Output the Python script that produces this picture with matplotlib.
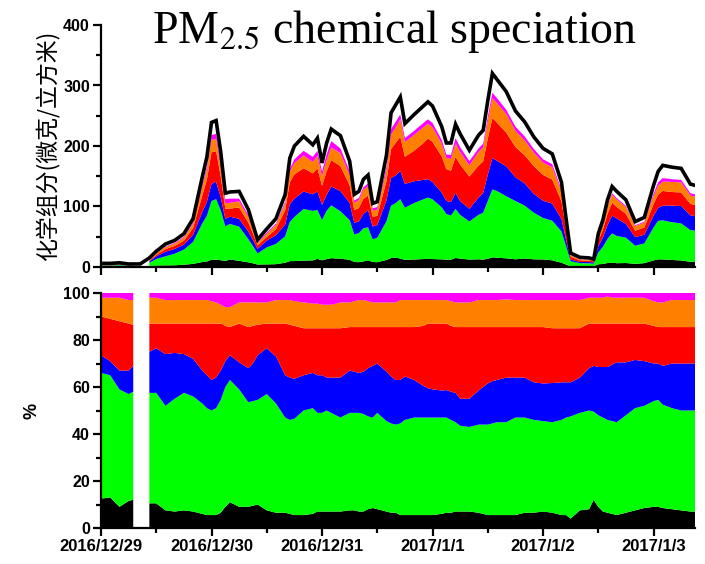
import numpy as np
import matplotlib
matplotlib.use("Agg")
import matplotlib.pyplot as plt
from matplotlib.ticker import MultipleLocator

plt.rcParams['font.family'] = ['Liberation Sans', 'DejaVu Sans']

# Sampling times, hours after 2016/12/29 00:00
hours = [0, 2, 4, 6, 7, 8.5, 10.5, 12, 14, 16, 18, 20, 22, 23, 24, 25, 26, 27, 28,
         30, 32, 33, 34, 36, 38, 40, 41, 42, 44, 46, 47, 48, 49, 50, 52, 54, 55,
         56, 57, 58, 59, 60, 62, 63, 64, 65, 66, 68, 70, 71, 72, 74, 75, 76, 77,
         78, 80, 82, 83, 84, 85, 86, 88, 90, 92, 94, 96, 98, 100, 101, 102, 104,
         106, 107, 108, 109, 110, 111, 112, 114, 116, 118, 120, 121, 122, 124,
         126, 128, 129]

# Measured PM2.5 mass (ug/m3)
pm25_total = [6, 6, 7, 5, 5, 5, 15, 26, 38, 44, 55, 80, 149, 182, 239, 242, 190, 122, 124,
              125, 95, 70, 45, 63, 80, 120, 180, 200, 216, 202, 213, 172, 205, 228, 217, 175, 120,
              125, 145, 152, 105, 108, 185, 255, 268, 281, 237, 252, 266, 273, 266, 232, 205, 205, 236,
              220, 193, 218, 226, 275, 320, 310, 290, 258, 240, 215, 196, 187, 140, 80, 23, 16,
              15, 13, 55, 78, 111, 133, 125, 111, 75, 82, 135, 158, 168, 165,
              163, 137, 135]

# Sum of the identified chemical components (ug/m3)
species_sum = [4, 4, 5, 4, 4, np.nan, 12, 23, 34, 40, 50, 74, 136, 166, 218, 220, 172, 112, 113,
               113, 86, 64, 41, 57, 72, 108, 162, 178, 192, 182, 192, 158, 186, 208, 196, 158, 110,
               114, 132, 138, 97, 99, 166, 228, 240, 252, 213, 225, 238, 244, 238, 210, 186, 185, 213,
               198, 175, 196, 204, 248, 288, 279, 260, 232, 216, 195, 178, 170, 128, 73, 20, 13,
               12, 11, 50, 71, 101, 122, 114, 101, 69, 75, 121, 140, 147, 145,
               144, 122, 120]

nan = np.nan
# Component shares of the identified mass (%)
pct_black = [12.5, 13, 9, 11.5, 12, nan, 10.5, 10.5, 7.5, 7, 7.5, 7, 6, 5.5, 5.5, 5.5, 6.5, 9, 11,
             9, 9, 9.5, 10, 7.5, 6.5, 6.5, 6, 5.5, 5.5, 6, 7, 7, 7, 7, 7, 7.5, 7.5,
             7, 7, 8, 8.5, 8, 7, 6.5, 6.5, 5.5, 5.5, 5.5, 5.5, 5.5, 5.5, 6, 6.5, 6.5, 7,
             7, 7, 6.5, 6, 5.5, 5.5, 5.5, 5.5, 5.5, 6.5, 6.5, 7, 6.5, 5.5, 5.5, 4, 7.5,
             8, 12, 9, 7, 6.5, 6, 5.5, 6.5, 7.5, 8.5, 9, 9, 8.5, 8,
             7.5, 7, 7]
pct_green = [53.5, 52, 50, 45.5, 46, nan, 47, 47, 44.5, 48, 50, 49, 47, 45.5, 44.5, 45.5, 48, 51, 52,
             50, 44.5, 44.5, 44.5, 49.5, 46.5, 40.5, 40, 41, 44.5, 45, 42, 42, 43, 42, 40, 41.5, 41.5,
             42, 41.5, 39.5, 38.5, 41, 38.5, 38, 37.5, 39, 40.5, 41.5, 41.5, 41.5, 41.5, 41, 40.5, 39.5, 38,
             36.5, 36, 37.5, 38, 38.5, 39, 39.5, 39.5, 41.5, 40.5, 39.5, 38.5, 38.5, 40.5, 41.5, 43.5, 41.5,
             42, 37.5, 39, 40, 39.5, 39.5, 39.5, 41.5, 43.5, 43.5, 45, 45.5, 44, 43,
             42.5, 43, 43]
pct_blue = [7.5, 6, 8, 10, 11, nan, 17.5, 19, 22, 19.5, 16.5, 16, 14, 14, 13, 13, 12.5, 11, 10.5,
            11.5, 14.5, 16, 19, 19.5, 20, 18, 18, 17, 15, 15, 16, 16, 14, 15, 17, 18, 17.5,
            17, 18, 20.5, 22, 21, 21, 20, 19, 18.5, 18.5, 16, 13.5, 12.5, 12, 11.5, 11.7, 12, 12.5,
            11.5, 12, 14.5, 16, 17.5, 18, 18, 19, 17, 17, 16, 16, 16.7, 16, 15, 14.5, 15,
            18, 19.5, 20.5, 21.5, 22.5, 24, 25.5, 22.5, 20.5, 19, 16, 15.5, 16.5, 19,
            20, 20, 20]
pct_red = [16.5, 18, 21, 20, 17.5, nan, 12, 10.5, 13, 12.5, 13, 15, 20, 22, 24, 23, 20, 15, 12,
           16.5, 17.5, 16, 13, 10.5, 14, 22, 22.5, 22.5, 20, 19, 20, 20, 21, 21, 21, 18.5, 19,
           19.5, 19, 17.5, 16.5, 15.5, 19, 21, 22.5, 22.5, 21, 22.5, 25.5, 27.5, 28, 28.5, 28.3, 28, 28,
           30.5, 30.5, 27, 25.5, 24, 23, 22.5, 21.5, 21.5, 21.5, 23.5, 24, 23.3, 23, 23, 23, 21,
           19, 18, 18.5, 18.5, 18.5, 17.5, 16.5, 16.5, 15.5, 16, 16, 15.5, 16.5, 15.5,
           15.5, 15.5, 15.5]
pct_orange = [8, 9, 10, 10, 10.5, nan, 11, 11, 10, 10, 10, 10, 10, 10, 9.5, 9, 8, 8, 8.5,
              9, 10.5, 10, 9.5, 9, 10, 10, 10.5, 10.5, 11, 10.5, 10.5, 10, 10, 10, 11, 10.5, 11,
              11.5, 11.5, 11, 10.5, 10.5, 10.5, 10.5, 10.5, 11.5, 11.5, 11.5, 11, 10, 10, 10, 10, 10.5, 10.5,
              10.5, 10.5, 11.5, 11.5, 11.5, 11.5, 11.5, 11.8, 11.5, 11.5, 11.5, 11.5, 12, 12, 12, 12, 12,
              11, 11, 11, 11, 11.5, 11, 11, 11, 11, 11, 10.5, 10.5, 10.5, 11.5,
              11.5, 11.5, 11.5]
pct_magenta = [2, 2, 2, 3, 3, nan, 2, 2, 3, 3, 3, 3, 3, 3, 3.5, 4, 5, 6, 6,
               4, 4, 4, 4, 4, 3, 3, 3, 3.5, 4, 4.5, 4.5, 5, 5, 5, 4, 4, 3.5,
               3, 3, 3.5, 4, 4, 4, 4, 4, 3, 3, 3, 3, 3, 3, 3, 3, 3.5, 4,
               4, 4, 3, 3, 3, 3, 3, 2.7, 3, 3, 3, 3, 3, 3, 3, 3, 3,
               2, 2, 2, 2, 1.5, 2, 2, 2, 2, 2, 3.5, 4, 4, 3,
               3, 3, 3]

layer_colors = ['#000000', '#00ff00', '#0000ff', '#ff0000', '#ff8000', '#ff00ff']

day_ticks = [0, 24, 48, 72, 96, 120]
day_labels = ['2016/12/29', '2016/12/30', '2016/12/31', '2017/1/1', '2017/1/2', '2017/1/3']

t = np.array(hours, dtype=float)
shares = np.array([pct_black, pct_green, pct_blue, pct_red, pct_orange, pct_magenta], dtype=float)
mass = np.array(species_sum, dtype=float) * shares / 100.0

fig = plt.figure(figsize=(7.05, 5.64), dpi=100)
ax1 = fig.add_axes([101 / 705, 1 - 267 / 564, 594 / 705, 242 / 564])
ax2 = fig.add_axes([101 / 705, 1 - 528 / 564, 594 / 705, 235 / 564])

ax1.stackplot(t, mass, colors=layer_colors, linewidth=0)
ax1.plot(t, pm25_total, color='black', lw=2.6, solid_joinstyle='miter', zorder=5)
ax2.stackplot(t, shares, colors=layer_colors, linewidth=0)

ax1.set_ylim(0, 400)
ax2.set_ylim(0, 100)
ax1.yaxis.set_major_locator(MultipleLocator(100))
ax1.yaxis.set_minor_locator(MultipleLocator(50))
ax2.yaxis.set_major_locator(MultipleLocator(20))
ax2.yaxis.set_minor_locator(MultipleLocator(10))

for ax in (ax1, ax2):
    ax.set_xlim(0, 129)
    ax.set_xticks(day_ticks)
    ax.xaxis.set_minor_locator(MultipleLocator(12))
    ax.spines['top'].set_visible(False)
    ax.spines['right'].set_visible(False)
    ax.spines['left'].set_linewidth(1.6)
    ax.spines['bottom'].set_linewidth(1.6)
    ax.tick_params(which='major', direction='out', length=6, width=1.6)
    ax.tick_params(which='minor', direction='out', length=3.5, width=1.6)
    ax.tick_params(axis='both', labelsize=11.5, pad=2)
    for lab in ax.get_yticklabels():
        lab.set_fontweight('bold')

ax1.set_xticklabels([])
ax2.set_xticklabels(day_labels, fontweight='bold', fontsize=12)

ax1.set_ylabel('化学组分(微克/立方米)', family=['Noto Sans CJK SC', 'DejaVu Sans'],
               fontsize=16.5, labelpad=2)
ax2.set_ylabel('%', fontweight='bold', fontsize=13, labelpad=16)

fig.text(0.56, 0.945, r'PM$_{2.5}$ chemical speciation', ha='center', va='center',
         family=['Liberation Serif'], fontsize=33, math_fontfamily='stix')

fig.savefig('out.png', dpi=100)
